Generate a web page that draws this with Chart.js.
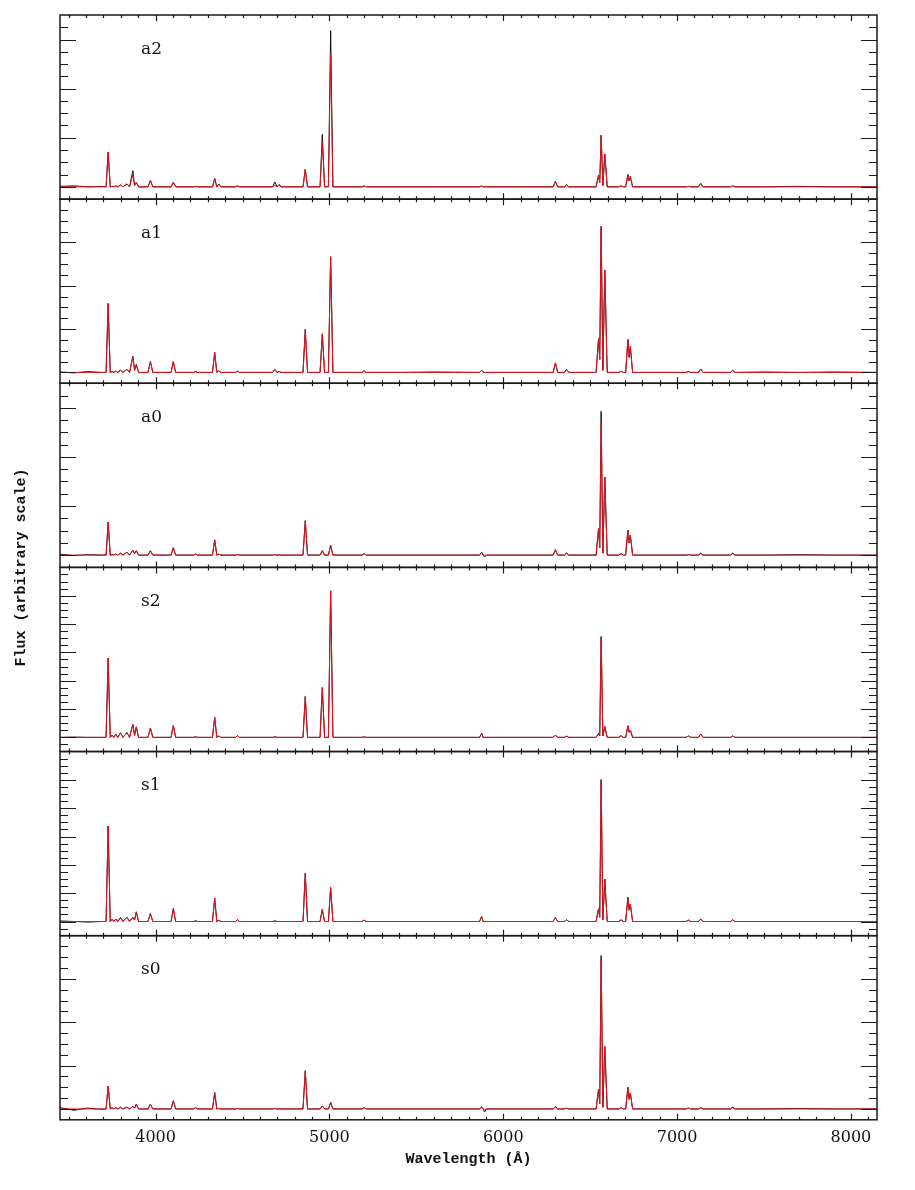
<!DOCTYPE html>
<html>
<head>
<meta charset="utf-8">
<script src="https://cdn.jsdelivr.net/npm/chart.js@4.4.1/dist/chart.umd.min.js"></script>
<style>
  html, body { margin: 0; padding: 0; background: #fff; }
  #wrap { position: relative; width: 915px; height: 1190px; }
</style>
</head>
<body>
<div id="wrap"><canvas id="spec" width="915" height="1190"></canvas></div>
<script>
// wavelength grid (Å), shared by every spectrum
const wavelength = [
  3450, 3530, 3610, 3690, 3715, 3727, 3739, 3750, 3760, 3771, 3782, 3798, 3812, 3835, 3850, 3869, 3879, 3889, 3902,
  3956, 3970, 3984, 4089, 4102, 4115, 4218, 4230, 4242, 4327, 4340, 4352, 4363, 4375, 4459, 4471, 4483,
  4673, 4686, 4698, 4711, 4723, 4848, 4861, 4874, 4946, 4959, 4972, 4994, 5007, 5020, 5188, 5200, 5212,
  5400, 5600, 5863, 5876, 5884, 5893, 5903, 6100, 6287, 6300, 6313, 6351, 6364, 6377,
  6534, 6548, 6555, 6563, 6573, 6584, 6598, 6665, 6678, 6691, 6704, 6717, 6724, 6731, 6744,
  7052, 7065, 7078, 7123, 7136, 7149, 7307, 7320, 7333, 7500, 7700, 7900, 8150
];

// panel a2
const a2Obs = [
  0.01, 0.02, 0, 0.01, 0, 0.71, 0, 0.01, 0, 0.02, 0, 0.04, 0, 0.06, 0, 0.33, 0.03, 0.09, 0,
  0, 0.13, 0, 0, 0.09, 0, 0, 0.01, 0, 0, 0.17, 0, 0.06, 0, 0, 0.02, 0,
  0, 0.10, 0, 0.05, 0, 0, 0.36, 0, 0, 1.07, 0, 0.01, 3.18, 0, 0, 0.02, 0,
  0, 0, 0, 0.02, 0, 0, 0, 0, 0, 0.11, 0, 0, 0.04, 0,
  0, 0.24, 0.08, 1.05, 0.03, 0.67, 0, 0, 0.02, 0, 0, 0.25, 0.12, 0.21, 0,
  0, 0.01, 0, 0, 0.07, 0, 0, 0.02, 0, 0, 0.01, 0, 0
];
const a2Fit = [
  0, 0, 0, 0, 0, 0.71, 0, 0.01, 0, 0.02, 0, 0.04, 0, 0.06, 0, 0.25, 0.03, 0.09, 0,
  0, 0.13, 0, 0, 0.09, 0, 0, 0.01, 0, 0, 0.17, 0, 0.05, 0, 0, 0.02, 0,
  0, 0.03, 0, 0.03, 0, 0, 0.36, 0, 0, 0.90, 0, 0, 2.71, 0, 0, 0.02, 0,
  0, 0, 0, 0.02, 0, 0, 0, 0, 0, 0.11, 0, 0, 0.04, 0,
  0, 0.24, 0.08, 1.05, 0.03, 0.67, 0, 0, 0.02, 0, 0, 0.25, 0.12, 0.21, 0,
  0, 0.01, 0, 0, 0.07, 0, 0, 0.02, 0, 0, 0, 0, 0
];

// panel a1
const a1Obs = [
  0.01, -0.01, 0.02, 0, 0, 1.59, 0, 0.02, 0, 0.03, 0, 0.05, 0, 0.07, 0, 0.37, 0.05, 0.18, 0,
  0, 0.25, 0, 0, 0.25, 0, 0, 0.02, 0, 0, 0.46, 0, 0.04, 0, 0, 0.03, 0,
  0, 0.07, 0, 0.02, 0, 0, 0.99, 0, 0, 0.89, 0, 0, 2.67, 0, 0, 0.04, 0,
  0, 0.01, 0, 0.05, 0.01, 0, 0, 0, 0, 0.22, 0, 0, 0.07, 0,
  0, 0.78, 0.30, 3.37, 0.05, 2.36, 0, 0, 0.03, 0, 0, 0.76, 0.35, 0.60, 0,
  0, 0.02, 0, 0, 0.08, 0, 0, 0.05, 0, 0.01, 0, 0.01, 0
];
const a1Fit = [
  0, 0, 0, 0, 0, 1.59, 0, 0.02, 0, 0.03, 0, 0.05, 0, 0.07, 0, 0.37, 0.05, 0.18, 0,
  0, 0.25, 0, 0, 0.25, 0, 0, 0.02, 0, 0, 0.46, 0, 0.04, 0, 0, 0.03, 0,
  0, 0.07, 0, 0.02, 0, 0, 0.99, 0, 0, 0.89, 0, 0, 2.67, 0, 0, 0.04, 0,
  0, 0, 0, 0.05, 0, 0, 0, 0, 0, 0.22, 0, 0, 0.07, 0,
  0, 0.78, 0.30, 3.37, 0.05, 2.36, 0, 0, 0.03, 0, 0, 0.76, 0.35, 0.60, 0,
  0, 0.02, 0, 0, 0.08, 0, 0, 0.05, 0, 0, 0, 0, 0
];

// panel a0
const a0Obs = [
  0.02, -0.01, 0.01, 0, 0, 0.67, 0, 0.01, 0, 0.02, 0, 0.04, 0, 0.06, 0, 0.10, 0.03, 0.09, 0,
  0, 0.09, 0, 0, 0.15, 0, 0, 0.02, 0, 0, 0.31, 0, 0.02, 0, 0, 0.01, 0,
  0, 0.01, 0, 0, 0, 0, 0.70, 0, 0, 0.09, 0, 0, 0.20, 0, 0, 0.03, 0,
  0, 0, 0, 0.06, 0, -0.04, 0, 0, 0, 0.11, 0, 0, 0.04, 0,
  0, 0.54, 0.15, 2.93, 0.04, 1.59, 0, 0, 0.03, 0, 0, 0.51, 0.25, 0.41, 0,
  0, 0.01, 0, 0, 0.04, 0, 0, 0.04, 0, 0, 0.01, 0, 0
];
const a0Fit = [
  0, 0, 0, 0, 0, 0.67, 0, 0.01, 0, 0.02, 0, 0.04, 0, 0.06, 0, 0.10, 0.03, 0.09, 0,
  0, 0.09, 0, 0, 0.15, 0, 0, 0.02, 0, 0, 0.31, 0, 0.02, 0, 0, 0.01, 0,
  0, 0.01, 0, 0, 0, 0, 0.70, 0, 0, 0.09, 0, 0, 0.20, 0, 0, 0.03, 0,
  0, 0, 0, 0.06, 0, 0, 0, 0, 0, 0.11, 0, 0, 0.04, 0,
  0, 0.54, 0.15, 2.69, 0.04, 1.59, 0, 0, 0.03, 0, 0, 0.51, 0.25, 0.41, 0,
  0, 0.01, 0, 0, 0.04, 0, 0, 0.04, 0, 0, 0, 0, 0
];

// panel s2
const s2Obs = [
  0, 0.01, 0, 0, 0, 2.79, 0, 0.08, 0, 0.12, 0, 0.16, 0, 0.17, 0, 0.46, 0.07, 0.37, 0,
  0, 0.33, 0, 0, 0.42, 0, 0, 0.02, 0, 0, 0.71, 0, 0.05, 0, 0, 0.06, 0,
  0, 0.02, 0, 0, 0, 0, 1.44, 0, 0, 1.76, 0, 0, 5.17, 0, 0, 0.02, 0,
  0, 0, 0, 0.14, 0, 0, 0, 0, 0, 0.08, 0, 0, 0.04, 0,
  0, 0.14, 0.06, 3.56, 0.05, 0.38, 0, 0, 0.06, 0, 0, 0.41, 0.18, 0.26, 0,
  0, 0.05, 0, 0, 0.12, 0, 0, 0.05, 0, 0, 0, 0, 0
];
const s2Fit = [
  0, 0, 0, 0, 0, 2.79, 0, 0.08, 0, 0.12, 0, 0.16, 0, 0.17, 0, 0.46, 0.07, 0.37, 0,
  0, 0.33, 0, 0, 0.42, 0, 0, 0.02, 0, 0, 0.71, 0, 0.05, 0, 0, 0.06, 0,
  0, 0.02, 0, 0, 0, 0, 1.44, 0, 0, 1.76, 0, 0, 5.17, 0, 0, 0.02, 0,
  0, 0, 0, 0.14, 0, 0, 0, 0, 0, 0.08, 0, 0, 0.04, 0,
  0, 0.14, 0.06, 3.50, 0.05, 0.38, 0, 0, 0.06, 0, 0, 0.41, 0.18, 0.26, 0,
  0, 0.05, 0, 0, 0.12, 0, 0, 0.05, 0, 0, 0, 0, 0
];

// panel s1
const s1Obs = [
  0.02, 0, -0.02, 0, 0, 3.37, 0, 0.08, 0, 0.09, 0, 0.14, 0, 0.15, 0, 0.15, 0.05, 0.34, 0,
  0, 0.28, 0, 0, 0.46, 0, 0, 0.02, 0, 0, 0.82, 0, 0.04, 0, 0, 0.06, 0,
  0, 0.02, 0, 0, 0, 0, 1.70, 0, 0, 0.43, 0, 0, 1.20, 0, 0, 0.05, 0,
  0, 0, 0, 0.17, 0, 0, 0, 0, 0, 0.14, 0, 0, 0.06, 0,
  0, 0.45, 0.15, 5.01, 0.06, 1.50, 0, 0, 0.06, 0, 0, 0.86, 0.40, 0.62, 0,
  0, 0.05, 0, 0, 0.09, 0, 0, 0.06, 0, 0, 0, 0, 0
];
const s1Fit = [
  0, 0, 0, 0, 0, 3.37, 0, 0.08, 0, 0.09, 0, 0.14, 0, 0.15, 0, 0.15, 0.05, 0.34, 0,
  0, 0.28, 0, 0, 0.46, 0, 0, 0.02, 0, 0, 0.82, 0, 0.04, 0, 0, 0.06, 0,
  0, 0.02, 0, 0, 0, 0, 1.70, 0, 0, 0.43, 0, 0, 1.20, 0, 0, 0.05, 0,
  0, 0, 0, 0.17, 0, 0, 0, 0, 0, 0.14, 0, 0, 0.06, 0,
  0, 0.45, 0.15, 4.95, 0.06, 1.50, 0, 0, 0.06, 0, 0, 0.86, 0.40, 0.62, 0,
  0, 0.05, 0, 0, 0.09, 0, 0, 0.06, 0, 0, 0, 0, 0
];

// panel s0
const s0Obs = [
  0.03, -0.03, 0.02, -0.01, 0, 0.53, 0, 0.03, 0, 0.03, 0, 0.04, 0, 0.04, 0, 0.06, 0.02, 0.11, 0,
  0, 0.11, 0, 0, 0.19, 0, 0, 0.03, 0, 0, 0.38, 0, 0.01, 0, 0, 0.01, 0,
  0, 0.01, 0, 0, 0, 0, 0.88, 0, 0, 0.07, 0, 0, 0.15, 0, 0, 0.03, 0,
  0, 0, 0, 0.05, 0, -0.07, 0, 0, 0, 0.05, 0, 0, 0.02, 0,
  0, 0.45, 0.12, 3.54, 0.04, 1.44, 0, 0, 0.03, 0, 0, 0.50, 0.22, 0.37, 0,
  0, 0.02, 0, 0, 0.03, 0, 0, 0.04, 0, 0, 0.01, 0, 0
];
const s0Fit = [
  0, 0, 0, 0, 0, 0.53, 0, 0.03, 0, 0.03, 0, 0.04, 0, 0.04, 0, 0.06, 0.02, 0.11, 0,
  0, 0.11, 0, 0, 0.19, 0, 0, 0.03, 0, 0, 0.38, 0, 0.01, 0, 0, 0.01, 0,
  0, 0.01, 0, 0, 0, 0, 0.88, 0, 0, 0.07, 0, 0, 0.15, 0, 0, 0.03, 0,
  0, 0, 0, 0.05, 0, -0.02, 0, 0, 0, 0.05, 0, 0, 0.02, 0,
  0, 0.45, 0.12, 3.46, 0.04, 1.44, 0, 0, 0.03, 0, 0, 0.50, 0.22, 0.37, 0,
  0, 0.02, 0, 0, 0.03, 0, 0, 0.04, 0, 0, 0, 0, 0
];

// panels, top to bottom, and their flux ranges
const panelNames = ['a2', 'a1', 'a0', 's2', 's1', 's0'];
const panelObs = [a2Obs, a1Obs, a0Obs, s2Obs, s1Obs, s0Obs];
const panelFit = [a2Fit, a1Fit, a0Fit, s2Fit, s1Fit, s0Fit];
const panelMin = [-0.25, -0.25, -0.25, -0.5, -0.5, -0.25];
const panelMax = [3.5, 4, 3.5, 6, 6, 4];

const xTicks = [4000, 5000, 6000, 7000, 8000];
const xMin = 3450;
const xMax = 8150;

const serif = '"DejaVu Serif", serif';
const mono = '"Liberation Mono", "DejaVu Sans Mono", monospace';

function toPoints(values) {
  return wavelength.map((w, i) => ({ x: w, y: values[i] }));
}

// build datasets and one stacked y axis per panel
let datasets = [];
let scales = {
  x: {
    type: 'linear',
    min: xMin,
    max: xMax,
    grid: { display: false, drawTicks: false },
    border: { display: false },
    afterBuildTicks: (s) => { s.ticks = xTicks.map(v => ({ value: v })); },
    ticks: {
      color: '#111',
      font: { family: serif, size: 16 },
      padding: 8,
      maxRotation: 0,
      callback: (v) => String(v)
    }
  }
};

// stacked boxes are laid out from the bottom up, so add the axes in reverse
for (let i = panelNames.length - 1; i >= 0; i--) {
  scales[panelNames[i]] = {
    type: 'linear',
    position: 'left',
    stack: 'panels',
    stackWeight: 1,
    min: panelMin[i],
    max: panelMax[i],
    grid: { display: false, drawTicks: false },
    border: { display: false },
    ticks: { display: false }
  };
}

panelNames.forEach((name, i) => {
  datasets.push({
    label: name + ' observed',
    data: toPoints(panelObs[i]),
    yAxisID: name,
    borderColor: '#111111',
    borderWidth: 1,
    pointRadius: 0,
    tension: 0,
    order: 2
  });
  datasets.push({
    label: name + ' model',
    data: toPoints(panelFit[i]),
    yAxisID: name,
    borderColor: '#e3121e',
    borderWidth: 1,
    pointRadius: 0,
    tension: 0,
    order: 1
  });
});

// frames, inward ticks, panel names and axis titles
const framePlugin = {
  id: 'frames',
  afterDraw(chart) {
    const ctx = chart.ctx;
    const area = chart.chartArea;
    const xs = chart.scales.x;
    ctx.save();
    ctx.strokeStyle = '#1a1a1a';
    ctx.fillStyle = '#111';
    panelNames.forEach((name) => {
      const ys = chart.scales[name];
      const top = ys.top;
      const bottom = ys.bottom;
      ctx.lineWidth = 1.5;
      ctx.strokeRect(area.left, top, area.right - area.left, bottom - top);

      ctx.lineWidth = 1.2;
      ctx.beginPath();
      for (let w = 3500; w <= 8100; w += 100) {
        const px = Math.round(xs.getPixelForValue(w)) + 0.5;
        const len = w % 1000 === 0 ? 6 : 3;
        ctx.moveTo(px, top);
        ctx.lineTo(px, top + len);
        ctx.moveTo(px, bottom);
        ctx.lineTo(px, bottom - len);
      }
      for (let k = Math.ceil(ys.min * 4) + 1; k < ys.max * 4; k++) {
        const py = Math.round(ys.getPixelForValue(k / 4)) + 0.5;
        const len = k % 4 === 0 ? 16 : 8;
        ctx.moveTo(area.left, py);
        ctx.lineTo(area.left + len, py);
        ctx.moveTo(area.right, py);
        ctx.lineTo(area.right - len, py);
      }
      ctx.stroke();

      ctx.font = '17px ' + serif;
      ctx.textAlign = 'left';
      ctx.textBaseline = 'alphabetic';
      ctx.fillText(name, area.left + 81, top + 38.5);
    });

    // axis titles
    ctx.font = 'bold 15px ' + mono;
    ctx.textAlign = 'center';
    ctx.textBaseline = 'middle';
    ctx.fillText('Wavelength (Å)', (area.left + area.right) / 2, area.bottom + 39.5);
    ctx.translate(21, (area.top + area.bottom) / 2);
    ctx.rotate(-Math.PI / 2);
    ctx.fillText('Flux (arbitrary scale)', 0, 0);
    ctx.restore();
  }
};

new Chart(document.getElementById('spec'), {
  type: 'line',
  data: { datasets: datasets },
  options: {
    responsive: false,
    animation: false,
    devicePixelRatio: 1,
    layout: { padding: { left: 60, right: 38, top: 15, bottom: 35 } },
    plugins: {
      legend: { display: false },
      tooltip: { enabled: false }
    },
    scales: scales
  },
  plugins: [framePlugin]
});
</script>
</body>
</html>
